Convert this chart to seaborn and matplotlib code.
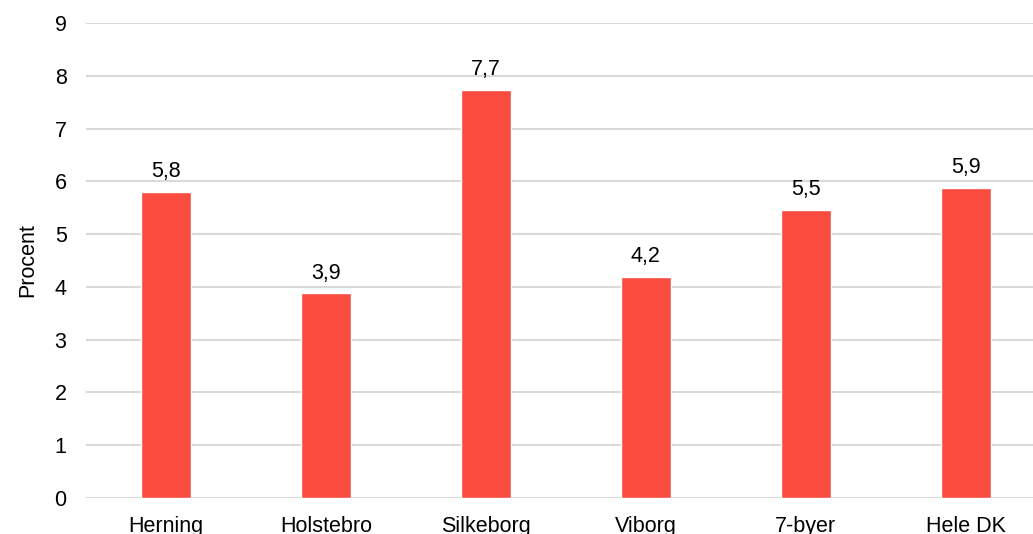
import matplotlib
matplotlib.use("Agg")
import matplotlib.pyplot as plt
import seaborn as sns
import pandas as pd

# data
byer = ["Herning", "Holstebro", "Silkeborg", "Viborg", "7-byer", "Hele DK"]
procent = [5.80, 3.88, 7.73, 4.19, 5.46, 5.87]

BAR = "#F94C3E"
GRID = "#D9D9D9"

sns.set_theme(style="white")
plt.rcParams["font.family"] = ["Liberation Sans", "DejaVu Sans"]

df = pd.DataFrame({"By": byer, "Procent": procent})

fig = plt.figure(figsize=(10.33, 5.34), dpi=100)
ax = fig.add_axes([86 / 1033, 36 / 534, 1 - 86 / 1033, 475 / 534])

sns.barplot(data=df, x="By", y="Procent", color=BAR, width=0.31,
            saturation=1, ax=ax, zorder=3)

for i, v in enumerate(procent):
    ax.annotate(f"{v:.1f}".replace(".", ","), (i, v), xytext=(0, 7),
                textcoords="offset points", ha="center", va="bottom",
                fontsize=15.5, color="#000000")

ax.set_ylim(0, 9)
ax.set_yticks(range(0, 10))
ax.set_xlim(-0.5, 5.42)
ax.yaxis.grid(True, color=GRID, lw=1.5, zorder=0)
ax.set_axisbelow(True)
for s in ax.spines.values():
    s.set_visible(False)
ax.tick_params(axis="both", length=0, labelsize=15.5, colors="#000000")
ax.tick_params(axis="y", pad=14)
ax.tick_params(axis="x", pad=13)
ax.set_xlabel("")
ax.set_ylabel("Procent", fontsize=15.5, color="#000000", labelpad=12)

fig.savefig("out.png", dpi=100)
